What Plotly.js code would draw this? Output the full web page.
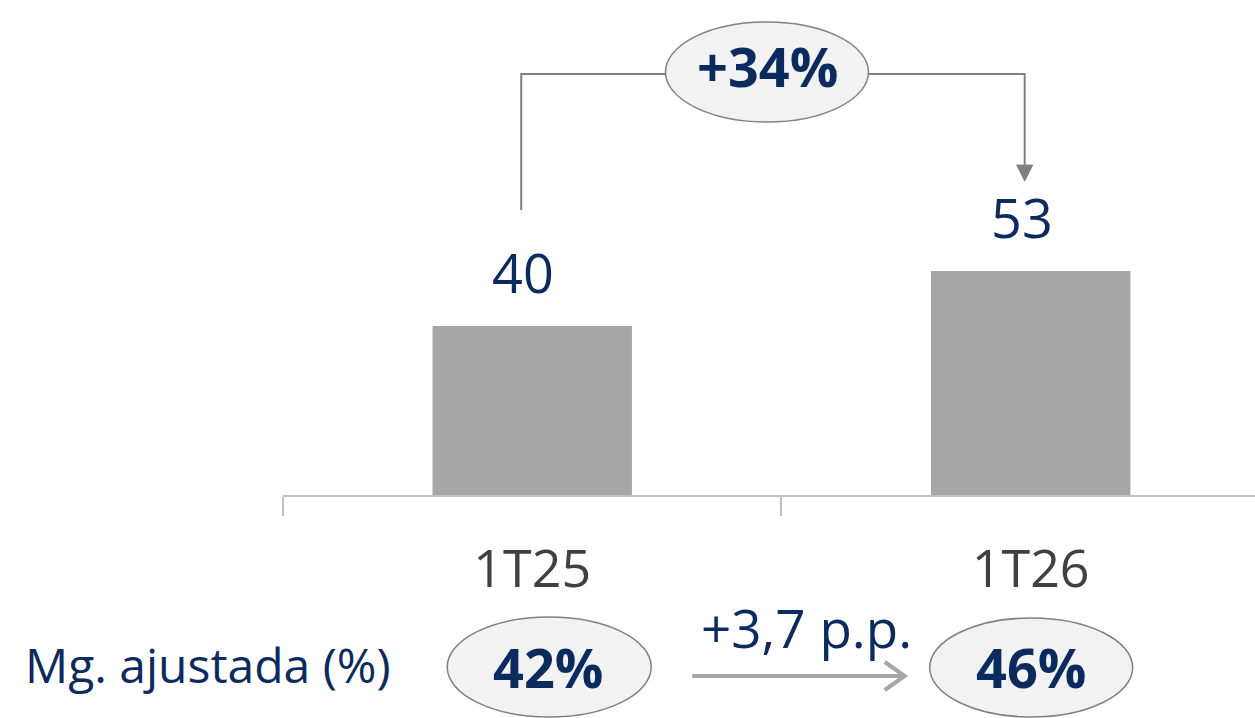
<!DOCTYPE html>
<html>
<head>
<meta charset="utf-8">
<script src="https://cdn.plot.ly/plotly-3.0.1.min.js"></script>
<style>html,body{margin:0;padding:0;background:#fff;}#chart{width:1255px;height:718px;}</style>
</head>
<body>
<div id="chart"></div>
<script>
// ---- data ----
const categories = ['1T25', '1T26'];
const values = [40, 53];
const valueLabels = ['40', '53'];
const marginLabels = ['42%', '46%'];
const marginTitle = 'Mg. ajustada (%)';
const growthLabel = '+34%';
const marginDeltaLabel = '+3,7 p.p.';

// ---- styling ----
const NAVY = '#0b2b5e';
const BAR = '#a6a6a6';
const FONT = 'Open Sans, Noto Sans, sans-serif';
const W = 1255, H = 718, ML = 283, MB = 223;
const plotH = H - MB;            // 495
const pxPerUnit = 4.225;
const yMax = plotH / pxPerUnit;
const pxPerCat = (W - ML) / 1.95;
const dx = px => px / pxPerCat;          // px -> category units
const dy = px => px / pxPerUnit;         // px -> data units
const py = px => (plotH - px) / plotH;   // absolute pixel y -> paper y (below plot)

const trace = {
  type: 'bar',
  x: categories,
  y: values,
  width: 0.4,
  marker: {color: BAR},
  hoverinfo: 'skip'
};

const connY = yMax - dy(74);
const leftX = 0 - dx(11);
const rightX = 1 - dx(6);
const ellL = 0.5 - dx(116), ellR = 0.5 + dx(87);

const shapes = [
  {type: 'path', xref: 'x', yref: 'y',
   path: `M ${leftX},${values[0] + dy(116)} L ${leftX},${connY} L ${ellL},${connY}`,
   line: {color: '#808080', width: 2}},
  {type: 'path', xref: 'x', yref: 'y',
   path: `M ${ellR},${connY} L ${rightX},${connY} L ${rightX},${values[1] + dy(104)}`,
   line: {color: '#808080', width: 2}},
  {type: 'path', xref: 'x', yref: 'y',
   path: `M ${rightX - dx(8)},${values[1] + dy(106)} L ${rightX + dx(8)},${values[1] + dy(106)} L ${rightX},${values[1] + dy(90)} Z`,
   fillcolor: '#808080', line: {color: '#808080', width: 1}},
  {type: 'circle', xref: 'x', yref: 'y',
   x0: ellL, x1: ellR, y0: yMax - dy(122), y1: yMax - dy(22),
   fillcolor: '#f2f2f2', line: {color: '#808080', width: 1.5}},
  {type: 'circle', xref: 'x', yref: 'paper',
   x0: 0 - dx(85), x1: 0 + dx(119), y0: py(717), y1: py(617),
   fillcolor: '#f2f2f2', line: {color: '#808080', width: 1.5}},
  {type: 'circle', xref: 'x', yref: 'paper',
   x0: 1 - dx(101), x1: 1 + dx(102), y0: py(717), y1: py(618),
   fillcolor: '#f2f2f2', line: {color: '#808080', width: 1.5}},
  {type: 'line', xref: 'x', yref: 'paper',
   x0: 0 + dx(160), x1: 1 - dx(126), y0: py(676), y1: py(676),
   line: {color: BAR, width: 4}},
  {type: 'path', xref: 'x', yref: 'paper',
   path: `M ${1 - dx(146)},${py(662)} L ${1 - dx(126)},${py(676)} L ${1 - dx(146)},${py(690)}`,
   line: {color: BAR, width: 4}}
];

const annotations = [
  {xref: 'x', yref: 'y', x: 0.5 - dx(14), y: yMax - dy(66), yanchor: 'middle', text: growthLabel, showarrow: false,
   font: {family: FONT, size: 54, color: NAVY, weight: 700}},
  {xref: 'paper', yref: 'paper', x: (23 - ML) / (W - ML), xanchor: 'left', y: py(664), yanchor: 'middle',
   text: marginTitle, showarrow: false, font: {family: FONT, size: 48, color: NAVY}},
  {xref: 'x', yref: 'paper', x: 0.5 + dx(25), y: py(627), yanchor: 'middle', text: marginDeltaLabel, showarrow: false,
   font: {family: FONT, size: 53, color: NAVY}}
];
values.forEach((v, i) => {
  annotations.push({xref: 'x', yref: 'y', x: i - dx(9), y: v, yanchor: 'bottom', yshift: 15,
    text: valueLabels[i], showarrow: false, font: {family: FONT, size: 54, color: NAVY}});
});
marginLabels.forEach((t, i) => {
  annotations.push({xref: 'x', yref: 'paper', x: i + (i === 0 ? dx(16) : 0), y: py(667), yanchor: 'middle', text: t,
    showarrow: false, font: {family: FONT, size: 54, color: NAVY, weight: 700}});
});

const layout = {
  width: W, height: H,
  margin: {l: ML, r: 0, t: 0, b: MB, pad: 0},
  paper_bgcolor: '#ffffff', plot_bgcolor: '#ffffff',
  showlegend: false,
  font: {family: FONT},
  xaxis: {
    type: 'category', range: [-0.5, 1.45], fixedrange: true,
    showline: true, linecolor: '#bfbfbf', linewidth: 2,
    ticks: 'outside', tickson: 'boundaries', ticklen: 19, tickwidth: 2, tickcolor: '#bfbfbf',
    ticklabelstandoff: 28,
    tickfont: {family: FONT, size: 52, color: '#404040'},
    showgrid: false, zeroline: false
  },
  yaxis: {range: [0, yMax], visible: false, fixedrange: true, showgrid: false, zeroline: false},
  shapes: shapes,
  annotations: annotations
};

Plotly.newPlot('chart', [trace], layout, {displayModeBar: false, staticPlot: true});
</script>
</body>
</html>
